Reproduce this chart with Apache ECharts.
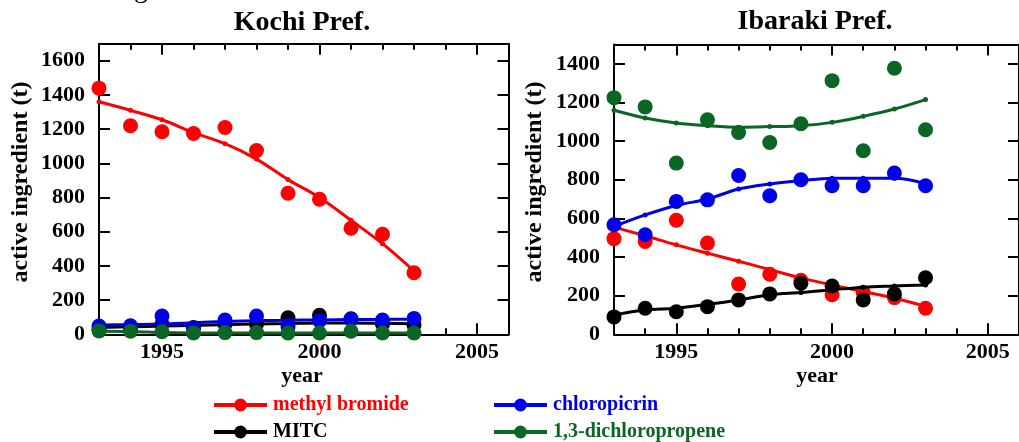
<!DOCTYPE html>
<html><head><meta charset="utf-8">
<script src="https://cdn.jsdelivr.net/npm/echarts@6/dist/echarts.min.js"></script>
<style>html,body{margin:0;padding:0;background:#fff}#c{width:1019px;height:442px}</style>
</head><body><div id="c"></div>
<script>
// ---- data ----
const years = [1993,1994,1995,1996,1997,1998,1999,2000,2001,2002,2003];
const allYears = [1993,1994,1995,1996,1997,1998,1999,2000,2001,2002,2003,2004,2005,2006];
const majorYears = [1995,2000,2005];
const kochiTicks = [0,200,400,600,800,1000,1200,1400,1600];
const ibarakiTicks = [0,200,400,600,800,1000,1200,1400];

// Kochi Pref.
const kochiMB      = [1440,1220,1185,1175,1210,1075,825,790,620,585,360];
const kochiMBfit   = [1360,1310,1255,1180,1115,1025,905,800,667,530,370];
const kochiMITC    = [30,35,60,40,60,60,97,111,91,60,55];
const kochiMITCfit = [40,44,48,52,56,60,63,66,66,64,62];
const kochiCP      = [48,50,107,35,83,107,44,80,88,83,93];
const kochiCPfit   = [55,57,60,68,75,80,82,84,86,87,88];
const kochiDCP     = [20,18,15,8,10,10,8,8,18,8,8];
const kochiDCPfit  = [18,17,10,8,8,8,8,8,8,8,8];

// Ibaraki Pref.
const ibMB      = [495,480,590,472,260,311,280,205,216,190,135];
const ibMBfit   = [555,510,463,420,378,335,292,255,221,187,145];
const ibMITC    = [90,135,117,143,178,209,264,250,178,209,293];
const ibMITCfit = [100,126,135,155,178,205,216,230,244,250,255];
const ibCP      = [567,515,688,696,822,717,800,769,769,835,769];
const ibCPfit   = [558,618,667,700,752,778,795,808,808,808,780];
const ibDCP     = [1225,1177,886,1110,1045,993,1090,1313,950,1377,1059];
const ibDCPfit  = [1160,1120,1094,1080,1072,1075,1080,1097,1128,1166,1215];

const names = ['methyl bromide','MITC','chloropicrin','1,3-dichloropropene'];
const colors = {'methyl bromide':'#ff0000','MITC':'#000000','chloropicrin':'#0000e8','1,3-dichloropropene':'#0b6623'};

const FONT = '"Liberation Serif","Times New Roman",serif';
const pair = a => years.map((y,i)=>[y,a[i]]);
const plain = v => String(v);

function xAxes(g){
  const base = {gridIndex:g, type:'value', min:1993, max:2006, splitLine:{show:false}};
  const line = {show:true, lineStyle:{color:'#000', width:2}};
  return [
    Object.assign({}, base, {position:'bottom', axisLine:line,
      axisTick:{show:true, inside:true, length:11, customValues:majorYears, lineStyle:{color:'#000',width:2}},
      axisLabel:{show:true, customValues:majorYears, formatter:plain, margin:7, color:'#000', fontFamily:FONT, fontWeight:'bold', fontSize:22}}),
    Object.assign({}, base, {position:'bottom', axisLine:{show:false},
      axisTick:{show:true, inside:true, length:6, customValues:allYears, lineStyle:{color:'#000',width:2}},
      axisLabel:{show:false}}),
    Object.assign({}, base, {position:'top', axisLine:line,
      axisTick:{show:true, inside:true, length:11, customValues:majorYears, lineStyle:{color:'#000',width:2}},
      axisLabel:{show:false}}),
    Object.assign({}, base, {position:'top', axisLine:{show:false},
      axisTick:{show:true, inside:true, length:6, customValues:allYears, lineStyle:{color:'#000',width:2}},
      axisLabel:{show:false}})
  ];
}
function yAxes(g, max, ticks){
  const base = {gridIndex:g, type:'value', min:0, max:max, splitLine:{show:false},
    axisLine:{show:true, lineStyle:{color:'#000', width:2}},
    axisTick:{show:true, inside:true, length:11, customValues:ticks, lineStyle:{color:'#000',width:2}}};
  return [
    Object.assign({}, base, {position:'left',
      axisLabel:{show:true, customValues:ticks, formatter:plain, margin:14, color:'#000', fontFamily:FONT, fontWeight:'bold', fontSize:22}}),
    Object.assign({}, base, {position:'right', axisLabel:{show:false}})
  ];
}

function seriesFor(g, sets){
  const out = [];
  // drawing order: red, black, blue, green
  names.forEach((n,k)=>{
    const s = sets[n];
    out.push({type:'line', name:n, xAxisIndex:g*4, yAxisIndex:g*2, data:pair(s[1]),
      smooth:0.35, symbol:'circle', symbolSize:5, showSymbol:true, z:2+k,
      lineStyle:{color:colors[n], width:3}, itemStyle:{color:colors[n]}, animation:false});
    out.push({type:'scatter', name:n+' obs', xAxisIndex:g*4, yAxisIndex:g*2, data:pair(s[0]),
      symbol:'circle', symbolSize:15, z:2+k, itemStyle:{color:colors[n], opacity:1}, animation:false});
  });
  return out;
}

function legendItem(name, left, top){
  return {left:left, top:top, orient:'horizontal', itemWidth:53, itemHeight:16, itemGap:0, selectedMode:false,
    padding:0, lineStyle:{width:4},
    textStyle:{fontFamily:FONT, fontWeight:'bold', fontSize:20, color:colors[name], padding:[0,0,0,1]},
    data:[name]};
}

const chart = echarts.init(document.getElementById('c'), null, {renderer:'canvas'});
chart.setOption({
  backgroundColor:'#fff',
  animation:false,
  grid:[
    {left:99, top:43.7, width:409.5, height:290.6, containLabel:false},
    {left:614, top:44.5, width:410, height:289.8, containLabel:false}
  ],
  xAxis:[...xAxes(0), ...xAxes(1)],
  yAxis:[...yAxes(0,1700,kochiTicks), ...yAxes(1,1500,ibarakiTicks)],
  legend:[
    legendItem('methyl bromide', 212, 395),
    legendItem('MITC', 212, 422),
    legendItem('chloropicrin', 492, 395),
    legendItem('1,3-dichloropropene', 492, 422)
  ],
  graphic:[
    {type:'text', x:141, y:4, style:{text:'g', font:'28px '+FONT, fill:'#000', align:'center', verticalAlign:'bottom'}},
    {type:'text', x:302, y:23, style:{text:'Kochi Pref.', font:'bold 28px '+FONT, fill:'#000', align:'center', verticalAlign:'middle'}},
    {type:'text', x:815, y:22, style:{text:'Ibaraki Pref.', font:'bold 28px '+FONT, fill:'#000', align:'center', verticalAlign:'middle'}},
    {type:'text', x:21, y:182, rotation:Math.PI/2, style:{text:'active ingredient (t)', font:'bold 24px '+FONT, fill:'#000', align:'center', verticalAlign:'middle'}},
    {type:'text', x:535, y:182, rotation:Math.PI/2, style:{text:'active ingredient (t)', font:'bold 24px '+FONT, fill:'#000', align:'center', verticalAlign:'middle'}},
    {type:'text', x:302, y:376, style:{text:'year', font:'bold 22px '+FONT, fill:'#000', align:'center', verticalAlign:'middle'}},
    {type:'text', x:817, y:376, style:{text:'year', font:'bold 22px '+FONT, fill:'#000', align:'center', verticalAlign:'middle'}}
  ],
  series:[
    ...seriesFor(0, {'methyl bromide':[kochiMB,kochiMBfit], 'MITC':[kochiMITC,kochiMITCfit],
                     'chloropicrin':[kochiCP,kochiCPfit], '1,3-dichloropropene':[kochiDCP,kochiDCPfit]}),
    ...seriesFor(1, {'methyl bromide':[ibMB,ibMBfit], 'MITC':[ibMITC,ibMITCfit],
                     'chloropicrin':[ibCP,ibCPfit], '1,3-dichloropropene':[ibDCP,ibDCPfit]})
  ]
});
</script></body></html>
